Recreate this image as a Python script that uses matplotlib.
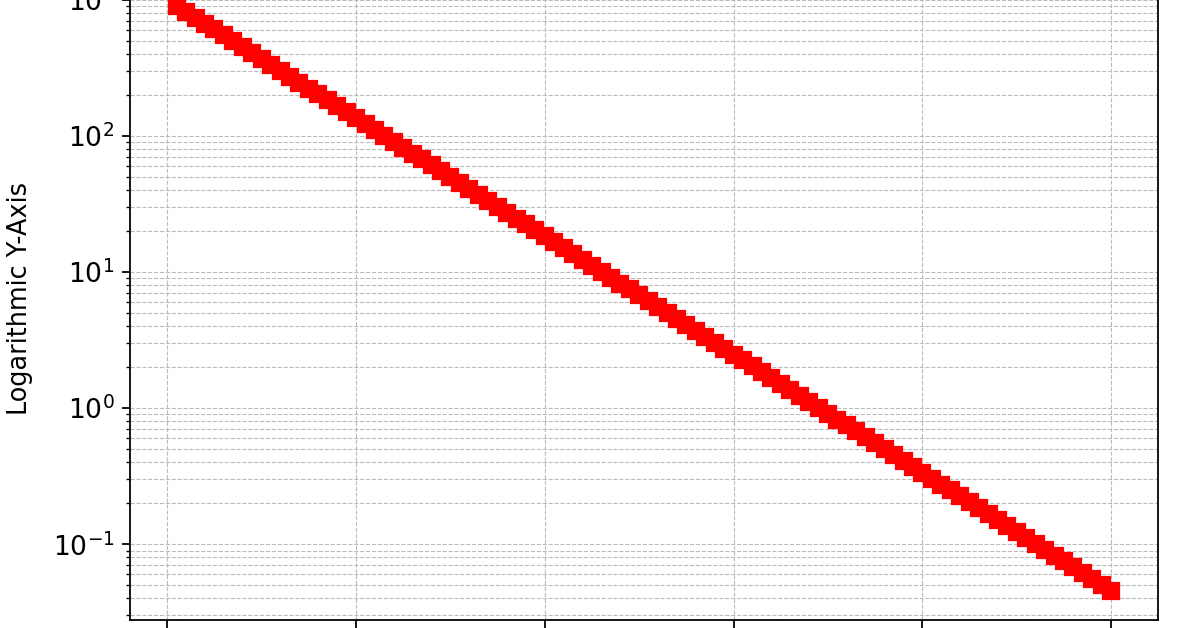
# exponential decay on a logarithmic y axis
# red square markers, dashed major/minor grid

import matplotlib
matplotlib.use('AGG')
import matplotlib.pyplot as plt

#%% data

x_vals = [0.1, 0.2, 0.3, 0.4, 0.5, 0.6, 0.7, 0.8, 0.9, 1.0,
          1.1, 1.2, 1.3, 1.4, 1.5, 1.6, 1.7, 1.8, 1.9, 2.0,
          2.1, 2.2, 2.3, 2.4, 2.5, 2.6, 2.7, 2.8, 2.9, 3.0,
          3.1, 3.2, 3.3, 3.4, 3.5, 3.6, 3.7, 3.8, 3.9, 4.0,
          4.1, 4.2, 4.3, 4.4, 4.5, 4.6, 4.7, 4.8, 4.9, 5.0,
          5.1, 5.2, 5.3, 5.4, 5.5, 5.6, 5.7, 5.8, 5.9, 6.0,
          6.1, 6.2, 6.3, 6.4, 6.5, 6.6, 6.7, 6.8, 6.9, 7.0,
          7.1, 7.2, 7.3, 7.4, 7.5, 7.6, 7.7, 7.8, 7.9, 8.0,
          8.1, 8.2, 8.3, 8.4, 8.5, 8.6, 8.7, 8.8, 8.9, 9.0,
          9.1, 9.2, 9.3, 9.4, 9.5, 9.6, 9.7, 9.8, 9.9, 10.0]

y_vals = [904.8, 818.7, 740.8, 670.3, 606.5, 548.8, 496.6, 449.3, 406.6, 367.9,
          332.9, 301.2, 272.5, 246.6, 223.1, 201.9, 182.7, 165.3, 149.6, 135.3,
          122.5, 110.8, 100.3, 90.72, 82.08, 74.27, 67.21, 60.81, 55.02, 49.79,
          45.05, 40.76, 36.88, 33.37, 30.20, 27.32, 24.72, 22.37, 20.24, 18.32,
          16.57, 15.00, 13.57, 12.28, 11.11, 10.05, 9.095, 8.230, 7.447, 6.738,
          6.097, 5.517, 4.992, 4.517, 4.087, 3.698, 3.346, 3.028, 2.739, 2.479,
          2.243, 2.029, 1.836, 1.662, 1.503, 1.360, 1.231, 1.114, 1.008, 0.9119,
          0.8251, 0.7466, 0.6755, 0.6113, 0.5531, 0.5005, 0.4528, 0.4097, 0.3707, 0.3355,
          0.3035, 0.2747, 0.2485, 0.2249, 0.2035, 0.1841, 0.1666, 0.1507, 0.1364, 0.1234,
          0.1117, 0.1010, 0.0914, 0.0827, 0.0749, 0.0677, 0.0613, 0.0555, 0.0502, 0.0454]

ylabel = 'Logarithmic Y-Axis'

#%% make plot

fig = plt.figure(figsize=(1196/160, 628/160), dpi=160)
# only a crop of the original figure is visible, so the axes run past the top edge
ax = fig.add_axes([0.1087, 0.0124, 0.8595, 1.025])

ax.plot(x_vals, y_vals, color='red', marker='s', markersize=7.5, linestyle='-', linewidth=1)
ax.set_yscale('log')
ax.grid(True, which='both', linestyle='--', linewidth=0.5, color='#bbbbbb')
ax.set_ylabel(ylabel, fontsize=11.5, labelpad=9)
ax.tick_params(labelsize=12)
ax.set_xticks([0, 2, 4, 6, 8, 10])

fig.savefig('out.png', dpi=160)
plt.close()
